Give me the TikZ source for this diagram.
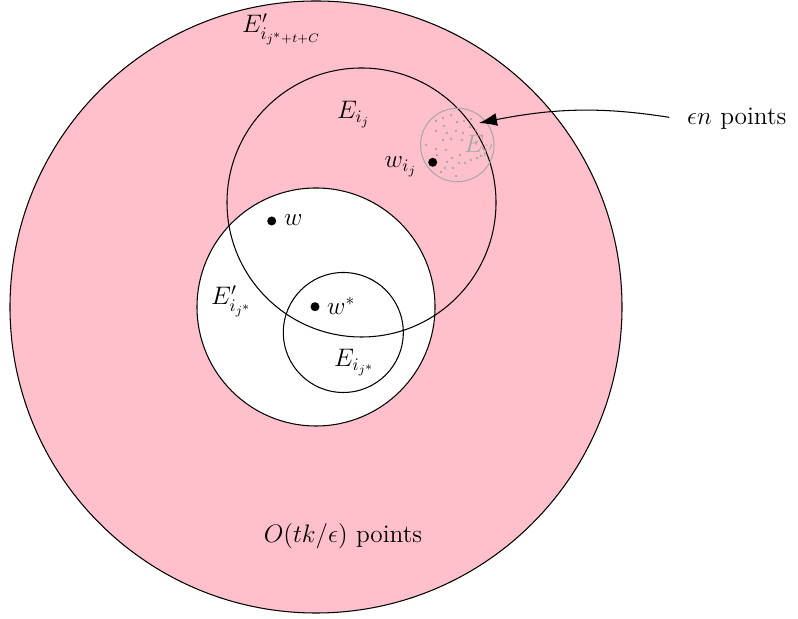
\documentclass[tikz,border=0pt]{standalone}
\usetikzlibrary{arrows.meta}
\definecolor{ballpink}{RGB}{255,192,203}
\definecolor{ballgray}{RGB}{168,168,168}
\begin{document}
\begin{tikzpicture}[
        x=0.2mm, y=0.2mm,
        ball/.style={circle, draw, line width=0.6pt, inner sep=0pt},
        pt/.style={circle, fill=black, inner sep=0pt, minimum size=1.8mm},
        lbl/.style={anchor=base west, font=\Large},
        arrow/.style={-{Latex[length=3.6mm, width=2.6mm]}, line width=0.6pt}
    ]
        \useasboundingbox (0,0) rectangle (798,619);

        % Balls
        \node[ball, fill=ballpink, minimum size=612*0.2mm] (outer) at (316,312) {};
        \node[ball, fill=white, minimum size=238*0.2mm] (inner) at (316,312) {};
        \node[ball, minimum size=269*0.2mm] (eij) at (361.5,416.5) {};
        \node[ball, minimum size=120*0.2mm] (eijs) at (343.3,286.5) {};
        \node[ball, draw=ballgray, minimum size=73.5*0.2mm] (eip) at (457.3,474) {};

        % Sampled points inside E_{i'}
        \foreach \x/\y in {436/121, 443/118, 444/126, 451/115, 457/122, 464/121, 471/119,
                476/130, 436/131, 447/133, 456/131, 463/133, 470/127, 482/136,
                443/140, 451/139, 462/140, 476/142, 426/145, 436/149, 446/150,
                469/150, 437/155, 452/158, 460/155, 447/162, 453/168, 459/163,
                465/163, 471/160, 477/158, 441/172, 445/168, 456/176, 483/148, 481/156}
            \fill[ballgray] (\x,{619-\y}) circle (1.4);

        % Points
        \node[pt] (w) at (271.7,398) {};
        \node[pt] (wstar) at (315,312.3) {};
        \node[pt] (wij) at (432.7,456.7) {};

        % Labels
        \node[lbl] (lblouter) at (236,586) {$E'_{i_{j^*+t+C}}$};
        \node[lbl] (lbleij) at (331,500) {$E_{i_j}$};
        \node[lbl, anchor=base east] (lblwij) at (423,451) {$w_{i_j}$};
        \node[lbl] (lblw) at (278,393) {$w$};
        \node[lbl] (lblinner) at (205,314) {$E'_{i_{j^*}}$};
        \node[lbl] (lblwstar) at (321,304) {$w^*$};
        \node[lbl] (lbleijs) at (328,252) {$E_{i_{j^*}}$};
        \node[lbl, text=ballgray] (lbleip) at (458,466) {$E_{i'}$};
        \node[lbl, anchor=base] (lblcount) at (343,76) {$O(tk/\epsilon)$ points};
        \node[lbl] (eps) at (681,494) {$\epsilon n$ points};

        % Arrow
        \coordinate (tip) at (479,496);
        \draw[arrow, shorten <=2.4mm] (eps.west) to[bend right=10] (tip);

    \end{tikzpicture}
\end{document}
